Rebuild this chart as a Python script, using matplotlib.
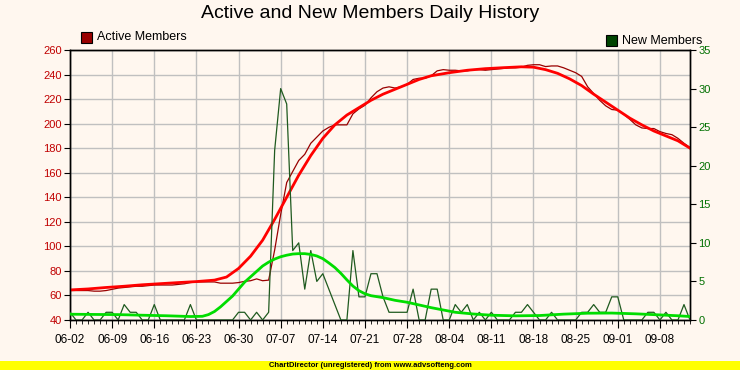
import numpy as np
import matplotlib.pyplot as plt
from matplotlib.patches import Rectangle
from matplotlib.ticker import MultipleLocator

plt.rcParams['font.family'] = ['Liberation Sans', 'DejaVu Sans']

# daily values, 06-02 .. 09-13
active = [64, 64, 64, 64, 63.5, 63.5, 64, 65, 66, 66.5,
          67, 67.5, 67.5, 68, 68.5, 68.5, 68.5, 68.5, 69, 69.5,
          70.5, 71, 71, 71, 71, 70, 70, 70, 70.5, 71.5,
          72, 73.5, 72, 72.5, 97, 126, 152, 161, 170, 175,
          184, 189, 194, 197, 199, 199, 199, 208, 212, 215,
          221, 226, 229, 230, 229, 230, 232, 236, 237, 237,
          239, 243, 244, 243.5, 243.5, 243, 243, 244, 244, 243.5,
          244, 244.5, 245, 245.5, 245.5, 246, 247.5, 248, 248, 246.5,
          247, 247, 245.5, 243.5, 241.5, 238.5, 230, 224.5, 219, 214.5,
          211.5, 211, 207.5, 203.5, 199, 196.5, 196, 196, 193.5, 192,
          191, 188, 184, 180.5]
new_members = [1, 0, 0, 1, 0, 0, 1, 1, 0, 2,
               1, 1, 0, 0, 2, 0, 0, 0, 0, 0,
               2, 0, 0, 0, 0, 0, 0, 0, 1, 1,
               0, 1, 0, 1, 22, 30, 28, 9, 10, 4,
               9, 5, 6, 4, 2, 0, 0, 9, 3, 3,
               6, 6, 3, 1, 1, 1, 1, 4, 0, 0,
               4, 4, 0, 0, 2, 1, 2, 0, 1, 0,
               1, 0, 0, 0, 1, 1, 2, 1, 0, 0,
               1, 0, 0, 0, 0, 1, 1, 2, 1, 1,
               3, 3, 0, 0, 0, 0, 1, 1, 0, 1,
               0, 0, 2, 0]

# trend lines
trend_a_days = [0, 3, 6, 9, 12, 15, 18, 21, 24, 26, 28, 30, 32, 34, 36, 38, 40, 42, 44, 46,
                48, 50, 52, 54, 56, 58, 60, 63, 66, 69, 72, 75, 77, 79, 81, 83, 85, 87, 89,
                91, 93, 95, 97, 99, 101, 103]
trend_active = [64.5, 65.3, 66.5, 67.5, 68.7, 69.6, 70.5, 71.3, 72.5, 75, 82, 92, 105, 122, 140,
                158, 174, 188, 199, 207, 213, 219, 224, 228, 232, 236, 239, 241.5, 243.5, 244.8,
                245.6, 246.3, 246, 244, 241, 236.5, 231, 224, 217.5, 211, 204.5, 199, 194, 190,
                186, 180]
trend_n_days = [0, 4, 8, 12, 16, 20, 22, 23, 24, 25, 26, 27, 28, 29, 30, 31, 32, 33, 34, 35,
                36, 37, 38, 39, 40, 41, 42, 43, 44, 45, 46, 47, 48, 49, 50, 52, 54, 56, 58,
                60, 62, 64, 67, 70, 74, 78, 82, 86, 90, 94, 98, 101, 103]
trend_new = [0.75, 0.72, 0.7, 0.62, 0.55, 0.45, 0.48, 0.7, 1.1, 1.7, 2.4, 3.1, 4.0, 4.9, 5.6,
             6.3, 7.0, 7.5, 7.9, 8.2, 8.4, 8.55, 8.6, 8.6, 8.5, 8.3, 7.95, 7.4, 6.8, 6.05, 5.2,
             4.4, 3.8, 3.4, 3.15, 2.9, 2.55, 2.3, 1.95, 1.6, 1.3, 1.0, 0.78, 0.62, 0.54, 0.58,
             0.76, 0.88, 0.9, 0.8, 0.66, 0.55, 0.45]

tick_labels = ['06-02', '06-09', '06-16', '06-23', '06-30', '07-07', '07-14',
               '07-21', '07-28', '08-04', '08-11', '08-18', '08-25', '09-01', '09-08']

bg = '#fff7ef'
days = np.arange(len(active))

fig = plt.figure(figsize=(7.4, 3.7), dpi=100)
fig.patch.set_facecolor(bg)
ax = fig.add_axes([70/740, 50/370, 620/740, 270/370])
ax.set_facecolor(bg)
ax2 = ax.twinx()

ax.plot(days, active, color='#990000', lw=0.9, zorder=3)
ax.plot(trend_a_days, trend_active, color='#ff0000', lw=2.0, zorder=4)
ax2.plot(days, new_members, color='#1f5a1f', lw=0.9, zorder=3)
ax2.plot(trend_n_days, trend_new, color='#00dd00', lw=2.0, zorder=4)

ax.set_xlim(0, len(active) - 1)
ax.set_ylim(40, 260)
ax2.set_ylim(0, 35)
ax.set_xticks(np.arange(0, 7 * len(tick_labels), 7))
ax.set_xticklabels(tick_labels)
ax.xaxis.set_minor_locator(MultipleLocator(1))
ax.yaxis.set_major_locator(MultipleLocator(20))
ax2.yaxis.set_major_locator(MultipleLocator(5))

ax.grid(True, color='#c0c0c0', lw=1)
ax.set_axisbelow(True)
for a in (ax, ax2):
    for s in a.spines.values():
        s.set_color('black')
        s.set_linewidth(1)

ax.tick_params(axis='x', which='major', length=6, direction='out', labelsize=8.5, pad=4)
ax.tick_params(axis='x', which='minor', length=3, direction='out')
ax.tick_params(axis='y', length=4, direction='out', labelsize=8, labelcolor='#c00000', pad=2)
ax2.tick_params(axis='y', length=4, direction='out', labelsize=8, labelcolor='#007000', pad=2)

fig.text(0.5, 1 - 14/370, 'Active and New Members Daily History', ha='center', va='center',
         fontsize=14)

fig.patches.append(Rectangle((81/740, 1 - 43/370), 11/740, 11/370, transform=fig.transFigure,
                             facecolor='#990000', edgecolor='black', lw=0.8))
fig.text(97/740, 1 - 37.5/370, 'Active Members', ha='left', va='center', fontsize=9)
fig.patches.append(Rectangle((606/740, 1 - 46/370), 11/740, 11/370, transform=fig.transFigure,
                             facecolor='#004400', edgecolor='black', lw=0.8))
fig.text(622/740, 1 - 40.5/370, 'New Members', ha='left', va='center', fontsize=9)

fig.patches.append(Rectangle((0, 0), 1, 9/370, transform=fig.transFigure,
                             facecolor='#ffff00', edgecolor='none'))
fig.text(370/740, 4.5/370, 'ChartDirector (unregistered) from www.advsofteng.com',
         ha='center', va='center', fontsize=5.5, fontweight='bold')

fig.savefig('out.png', dpi=100, facecolor=bg)
